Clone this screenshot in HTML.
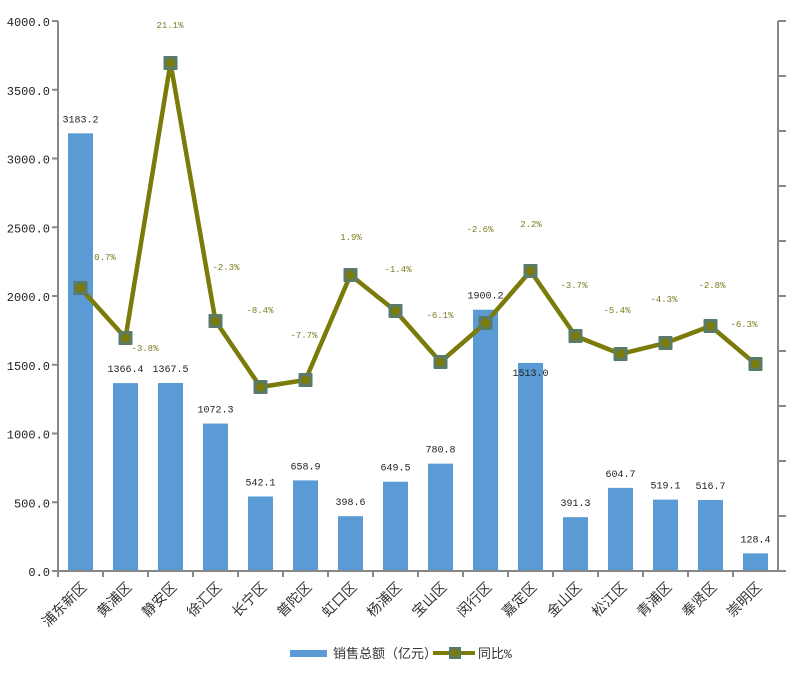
<!DOCTYPE html>
<html><head><meta charset="utf-8"><style>
body{margin:0;background:#fff;}
svg text{font-family:"Liberation Mono","Noto Sans CJK SC",monospace;}
</style></head><body>
<svg width="800" height="676" xmlns="http://www.w3.org/2000/svg">
<g id="bars" fill="#5b9bd5"></g>
<g stroke="#888" stroke-width="2" fill="none">
<line x1="58" y1="21" x2="58" y2="572"/>
<line x1="57" y1="571" x2="778" y2="571"/>
<line x1="778" y1="21" x2="778" y2="572"/>
</g>
<g id="ax"></g>
<g id="ln"></g>
<g id="lbl"></g>
<rect x="290" y="650" width="37" height="7" fill="#5b9bd5"/>
<text x="333" y="658" font-size="13" fill="#333" font-family="Liberation Sans,Noto Sans CJK SC,sans-serif">销售总额（亿元）</text>
<line x1="433" y1="653" x2="475" y2="653" stroke="#7b7b0a" stroke-width="4"/>
<rect x="449" y="647" width="12" height="12" fill="#5a7a6a"/><circle cx="455" cy="653" r="4" fill="#7b7b0a"/>
<text x="478" y="658" font-size="13" fill="#333" font-family="Liberation Sans,Noto Sans CJK SC,sans-serif">同比%</text>
<script>
var ns="http://www.w3.org/2000/svg";
function el(p,t,a,tx){var e=document.createElementNS(ns,t);for(var k in a)e.setAttribute(k,a[k]);if(tx)e.textContent=tx;p.appendChild(e);return e;}
var names=["浦东新区","黄浦区","静安区","徐汇区","长宁区","普陀区","虹口区","杨浦区","宝山区","闵行区","嘉定区","金山区","松江区","青浦区","奉贤区","崇明区"];
var vals=[3183.2,1366.4,1367.5,1072.3,542.1,658.9,398.6,649.5,780.8,1900.2,1513.0,391.3,604.7,519.1,516.7,128.4];
var ly=[288,338,63,321,387,380,275,311,362,323,271,336,354,343,326,364];
var pct=["0.7%","-3.8%","21.1%","-2.3%","-8.4%","-7.7%","1.9%","-1.4%","-6.1%","-2.6%","2.2%","-3.7%","-5.4%","-4.3%","-2.8%","-6.3%"];
var pp=[[105,260],[145,351],[170,28],[226,270],[260,313],[304,338],[351,240],[398,272],[440,318],[480,232],[531,227],[574,288],[617,313],[664,302],[712,288],[744,327]];
var B=document.getElementById("bars"),A=document.getElementById("ax"),L=document.getElementById("ln"),T=document.getElementById("lbl");
for(var v=0;v<=8;v++){var y=571-v*68.75;el(A,"line",{x1:52,y1:y,x2:58,y2:y,stroke:"#888","stroke-width":2});
el(A,"text",{x:50,y:y+5,"font-size":12,"text-anchor":"end",fill:"#222"},(v*500).toFixed(1));}
for(var r=0;r<=10;r++){var y=21+r*55;el(A,"line",{x1:778,y1:y,x2:786,y2:y,stroke:"#888","stroke-width":2});}
var pts=[];
for(var i=0;i<16;i++){var cx=80.5+45*i,h=vals[i]*0.1375;
el(B,"rect",{x:cx-12.5,y:571-h,width:25,height:h});
el(A,"line",{x1:58+45*i,y1:571,x2:58+45*i,y2:577,stroke:"#888","stroke-width":2});
var ty=(i==10)?571-h+13:571-h-11;
el(T,"text",{x:cx,y:ty,"font-size":10,"text-anchor":"middle",fill:"#222"},vals[i].toFixed(1));
el(A,"text",{x:0,y:0,"font-size":14,"text-anchor":"end",fill:"#333",transform:"translate("+(cx+7)+",588) rotate(-45)","font-family":"Liberation Serif,Noto Serif CJK SC,serif"},names[i]);
pts.push(cx+","+ly[i]);
el(T,"text",{x:pp[i][0],y:pp[i][1],"font-size":9,"text-anchor":"middle",fill:"#7b7b20"},pct[i]);}
el(L,"polyline",{points:pts.join(" "),fill:"none",stroke:"#7b7b0a","stroke-width":4.5,"stroke-linejoin":"round"});
for(var i=0;i<16;i++){var cx=80.5+45*i;el(L,"rect",{x:cx-7,y:ly[i]-7,width:14,height:14,fill:"#5a7a6a",rx:1});el(L,"circle",{cx:cx,cy:ly[i],r:4.5,fill:"#7b7b0a"});}
</script>
</svg>
</body></html>
